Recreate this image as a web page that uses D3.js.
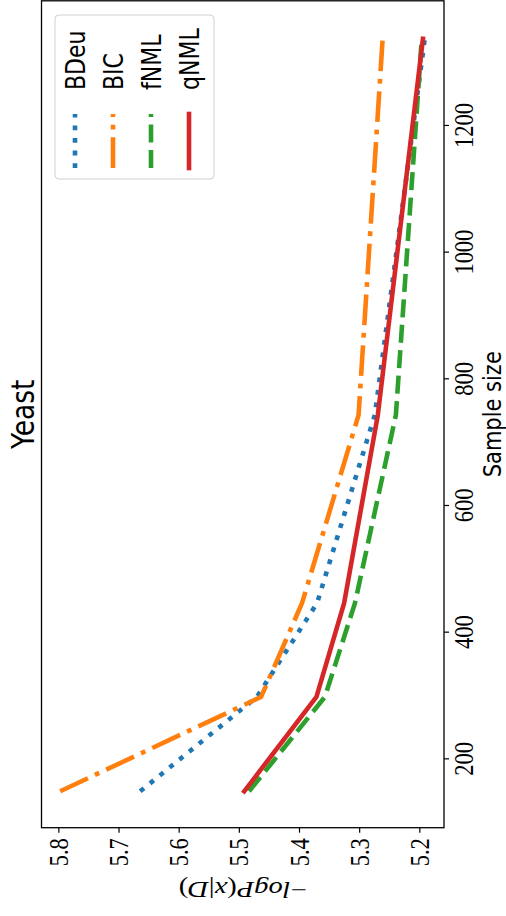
<!DOCTYPE html>
<html>
<head>
<meta charset="utf-8">
<script src="https://cdn.jsdelivr.net/npm/d3@7"></script>
<style>
  html, body { margin: 0; padding: 0; background: #fff; }
  svg { display: block; }
  .serif { font-family: 'Liberation Serif', serif; }
</style>
</head>
<body>
<div id="chart"></div>
<script>
// ---- data ----
const sampleSizes = [148, 297, 445, 742, 1336];
const seriesNames = ["BDeu", "BIC", "fNML", "qNML"];
const bdeuValues = [5.664, 5.470, 5.370, 5.274, 5.191];
const bicValues  = [5.797, 5.463, 5.395, 5.301, 5.261];
const fnmlValues = [5.483, 5.357, 5.307, 5.239, 5.196];
const qnmlValues = [5.491, 5.371, 5.325, 5.269, 5.194];
const valueTicks = [5.2, 5.3, 5.4, 5.5, 5.6, 5.7, 5.8];
const sizeTicks = [200, 400, 600, 800, 1000, 1200];
const titleText = "Yeast";
const sizeLabel = "Sample size";

const seriesValues = [bdeuValues, bicValues, fnmlValues, qnmlValues];
const colors = ["#1f77b4", "#ff7f0e", "#2ca02c", "#d62728"];
const dashes = ["4.8,7.8", "30.7,7.7,4.8,7.7", "18,7.5", null];

const W = 506, H = 916;
const K = 1.19; // text stretch across the reading direction
const pLeft = 41.5, pRight = 444, pTop = 0.8, pBottom = 827.7;

const svg = d3.select("#chart").append("svg")
  .attr("width", W).attr("height", H);

const x = d3.scaleLinear().domain([5.828, 5.159]).range([pLeft, pRight]);
const y = d3.scaleLinear().domain([90.5, 1396]).range([pBottom, pTop]);

// lines
const line = d3.line().x(d => x(d.v)).y(d => y(d.s));
seriesNames.forEach((name, i) => {
  const pts = sampleSizes.map((s, j) => ({ s: s, v: seriesValues[i][j] }));
  const p = svg.append("path")
    .datum(pts)
    .attr("d", line)
    .attr("fill", "none")
    .attr("stroke", colors[i])
    .attr("stroke-width", 4.6)
    .attr("stroke-linejoin", "round")
    .attr("stroke-linecap", dashes[i] ? "butt" : "square");
  if (dashes[i]) p.attr("stroke-dasharray", dashes[i]);
});

// frame
svg.append("rect")
  .attr("x", pLeft).attr("y", pTop)
  .attr("width", pRight - pLeft).attr("height", pBottom - pTop)
  .attr("fill", "none").attr("stroke", "#000").attr("stroke-width", 1.3);

// bottom axis (values)
const gx = svg.append("g").attr("transform", `translate(0,${pBottom})`)
  .call(d3.axisBottom(x).tickValues(valueTicks).tickSize(5).tickFormat(d3.format(".1f")));
gx.attr("font-family", null);
gx.select(".domain").remove();
gx.selectAll(".tick line").attr("stroke", "#000").attr("stroke-width", 1.2);
gx.selectAll(".tick text")
  .attr("class", "serif")
  .attr("x", null).attr("y", null).attr("dy", "0.34em")
  .attr("text-anchor", "end")
  .attr("transform", `translate(0,10.5) rotate(-90) scale(1,${K})`)
  .style("font-family", "'Liberation Serif', serif")
  .attr("font-size", 22.5).attr("fill", "#000");

// right axis (sample size)
const gy = svg.append("g").attr("transform", `translate(${pRight},0)`)
  .call(d3.axisRight(y).tickValues(sizeTicks).tickSize(5).tickFormat(d3.format("d")));
gy.attr("font-family", null);
gy.select(".domain").remove();
gy.selectAll(".tick line").attr("stroke", "#000").attr("stroke-width", 1.2);
gy.selectAll(".tick text")
  .attr("class", "serif")
  .attr("x", null).attr("y", null).attr("dy", null)
  .attr("text-anchor", "middle")
  .attr("transform", `translate(29,0) rotate(-90) scale(1,${K})`)
  .style("font-family", "'Liberation Serif', serif")
  .attr("font-size", 22.5).attr("fill", "#000");

// title
svg.append("text")
  .attr("transform", `translate(33.5,${(pTop + pBottom) / 2}) rotate(-90) scale(1,${K})`)
  .attr("text-anchor", "middle")
  .attr("font-family", "'DejaVu Sans', sans-serif")
  .attr("font-size", 26.5).attr("fill", "#000")
  .text(titleText);

// sample size label
svg.append("text")
  .attr("transform", `translate(501,${(pTop + pBottom) / 2}) rotate(-90) scale(1,${K})`)
  .attr("text-anchor", "middle")
  .attr("font-family", "'DejaVu Sans', sans-serif")
  .attr("font-size", 21).attr("fill", "#000")
  .text(sizeLabel);

// value label (upside down)
const yl = svg.append("text")
  .attr("transform", `translate(${(pLeft + pRight) / 2},882) rotate(180) scale(${K},1)`)
  .attr("text-anchor", "middle")
  .attr("font-family", "'Liberation Serif', serif")
  .attr("font-size", 24).attr("fill", "#000");
[["\u2212", "normal"], ["logP", "italic"], ["(", "normal"], ["x", "italic"],
 ["|", "normal"], ["D", "italic"], [")", "normal"]].forEach(([t, st]) => {
  yl.append("tspan").attr("font-style", st).text(t);
});

// legend
const lg = svg.append("g");
lg.append("rect")
  .attr("x", 55).attr("y", 15).attr("width", 159).attr("height", 164)
  .attr("rx", 4).attr("fill", "#fff").attr("fill-opacity", 0.8)
  .attr("stroke", "#d0d0d0").attr("stroke-width", 1);
const legX = d3.scalePoint().domain(seriesNames).range([75, 189]);
seriesNames.forEach((name, i) => {
  const hx = legX(name);
  const h = lg.append("line")
    .attr("x1", hx).attr("x2", hx).attr("y1", 168).attr("y2", 114)
    .attr("stroke", colors[i]).attr("stroke-width", 4.6)
    .attr("stroke-linecap", dashes[i] ? "butt" : "square");
  if (dashes[i]) h.attr("stroke-dasharray", dashes[i]);
  lg.append("text")
    .attr("transform", `translate(${hx + 9.8},90) rotate(-90) scale(1,${K})`)
    .attr("text-anchor", "start")
    .attr("font-family", "'DejaVu Sans', sans-serif")
    .attr("font-size", 22).attr("fill", "#000")
    .text(name);
});
</script>
</body>
</html>
